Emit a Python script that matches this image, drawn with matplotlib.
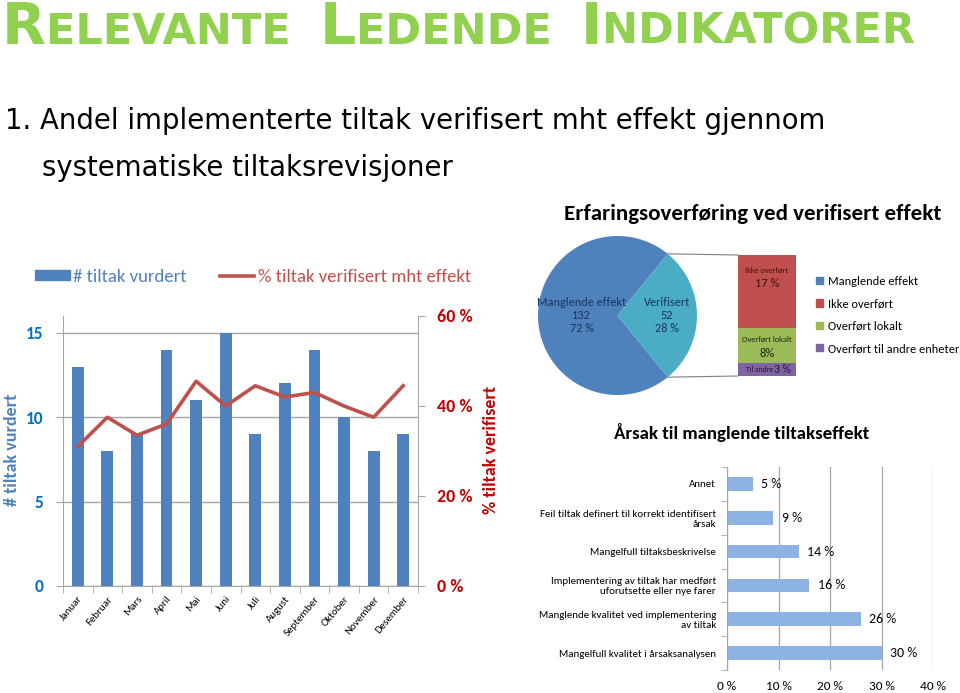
import matplotlib
matplotlib.use('Agg')
import numpy as np
import matplotlib.pyplot as plt
from matplotlib import font_manager
from matplotlib.patches import Patch, ConnectionPatch
from matplotlib.lines import Line2D

# --- data -------------------------------------------------------------
months = ['Januar', 'Februar', 'Mars', 'April', 'Mai', 'Juni', 'Juli',
          'August', 'September', 'Oktober', 'November', 'Desember']
tiltak_vurdert = [13, 8, 9, 14, 11, 15, 9, 12, 14, 10, 8, 9]
andel_verifisert = [0.31, 0.375, 0.335, 0.36, 0.455, 0.40, 0.445, 0.42,
                    0.43, 0.40, 0.375, 0.445]

pie_labels = ['Manglende effekt', 'Verifisert']
pie_counts = [132, 52]
overforing_labels = ['Til andre', 'Overført lokalt', 'Ikke overført']
overforing_pct = [3, 8, 17]
pie_legend = ['Manglende effekt', 'Ikke overført', 'Overført lokalt',
              'Overført til andre enheter']

arsak_labels = ['Annet',
                'Feil tiltak definert til korrekt identifisert\nårsak',
                'Mangelfull tiltaksbeskrivelse',
                'Implementering av tiltak har medført\nuforutsette eller nye farer',
                'Manglende kvalitet ved implementering\nav tiltak',
                'Mangelfull kvalitet i årsaksanalysen']
arsak_pct = [5, 9, 14, 16, 26, 30]

# --- helpers ----------------------------------------------------------
W, H = 960, 693

def fx(x):
    return x / W

def fy(y):
    return 1 - y / H

def box(x0, y0, x1, y1):
    # pixel box (top-left origin) -> fig fractions
    return [x0 / W, 1 - y1 / H, (x1 - x0) / W, (y1 - y0) / H]

names = {f.name for f in font_manager.fontManager.ttflist}
cf = 'Carlito' if 'Carlito' in names else 'Lato'
plt.rcParams['font.family'] = cf

BLUE = '#4f81bd'
RED = '#c0504d'
GRID = '#a6a6a6'

fig = plt.figure(figsize=(9.6, 6.93), dpi=100)
fig.patch.set_facecolor('white')
r = fig.canvas.get_renderer()

# --- title in small caps ---------------------------------------------
x = fx(2)
for word in 'Relevante Ledende Indikatorer'.split():
    for part, size in ((word[0], 41), (word[1:].upper(), 31)):
        t = fig.text(x, fy(44), part, fontsize=size, fontweight='bold',
                     color='#92d050', family='DejaVu Sans', va='baseline')
        x += t.get_window_extent(r).width / W
    x += fx(29)

fig.text(fx(5), fy(129), '1. Andel implementerte tiltak verifisert mht effekt gjennom',
         fontsize=19.8, family='DejaVu Sans', va='baseline')
fig.text(fx(42), fy(176), 'systematiske tiltaksrevisjoner',
         fontsize=19.8, family='DejaVu Sans', va='baseline')

# --- chart 1: bars + line --------------------------------------------
ax = fig.add_axes(box(63, 316, 418, 586))
xs = np.arange(len(months))
ax.bar(xs, tiltak_vurdert, width=0.4, color=BLUE, zorder=2)
ax.set_xlim(-0.5, len(months) - 0.5)
ax.set_ylim(0, 16)
ax.set_yticks([0, 5, 10, 15])
ax.grid(axis='y', color=GRID, lw=1, zorder=0)
ax.set_xticks(xs)
ax.set_xticklabels(months, rotation=50, ha='right', va='top',
                   rotation_mode='anchor', fontsize=7.8)
ax.set_xticks(np.arange(-0.5, len(months)), minor=True)
ax.tick_params(axis='x', which='major', length=0, pad=6)
ax.tick_params(axis='x', which='minor', length=5, color=GRID)
ax.tick_params(axis='y', length=5, color=GRID, labelcolor='#0070c0',
               labelsize=12.5, pad=9)
for lab in ax.get_yticklabels():
    lab.set_fontweight('bold')
for s in ['top', 'right']:
    ax.spines[s].set_visible(False)
for s in ['left', 'bottom']:
    ax.spines[s].set_color(GRID)

ax2 = ax.twinx()
ax2.plot(xs, andel_verifisert, color=RED, lw=2.6, zorder=3)
ax2.set_ylim(0, 0.6)
ax2.set_yticks([0, 0.2, 0.4, 0.6])
ax2.set_yticklabels([f'{v * 100:.0f} %' for v in ax2.get_yticks()])
ax2.tick_params(axis='y', length=5, color=GRID, labelcolor='#c00000',
                labelsize=13, pad=9)
for lab in ax2.get_yticklabels():
    lab.set_fontweight('bold')
for s in ['top', 'left', 'bottom']:
    ax2.spines[s].set_visible(False)
ax2.spines['right'].set_color(GRID)

fig.text(fx(12), fy(450), '# tiltak vurdert', rotation=90, ha='center',
         va='center', fontsize=13, fontweight='bold', color=BLUE)
fig.text(fx(491), fy(450), '% tiltak verifisert', rotation=90, ha='center',
         va='center', fontsize=13, fontweight='bold', color='#c00000')

leg = fig.legend(handles=[Patch(color=BLUE), Line2D([], [], color=RED, lw=2.6)],
                 labels=['# tiltak vurdert', '% tiltak verifisert mht effekt'],
                 ncol=2, loc='center left', bbox_to_anchor=(fx(35), fy(277)),
                 frameon=False, fontsize=13.5, handlelength=1.85,
                 handleheight=0.45, handletextpad=0.2, columnspacing=1.75,
                 borderpad=0, borderaxespad=0)
for txt, col in zip(leg.get_texts(), [BLUE, RED]):
    txt.set_color(col)

# --- chart 2: pie of verified + stacked bar ---------------------------
fig.text(fx(753), fy(214), 'Erfaringsoverføring ved verifisert effekt',
         ha='center', va='center', fontsize=16.5, fontweight='bold')

axp = fig.add_axes(box(538, 236, 697, 395))
frac_ver = pie_counts[1] / sum(pie_counts)
start = 180 * frac_ver
axp.pie(pie_counts, colors=[BLUE, '#4bacc6'], startangle=start,
        counterclock=True, radius=1)
axp.set_xlim(-1, 1)
axp.set_ylim(-1, 1)
angles = [start + 180 * (1 - frac_ver), 0]
radii = [0.45, 0.62]
for lab, cnt, ang, rad in zip(pie_labels, pie_counts, angles, radii):
    axp.text(rad * np.cos(np.radians(ang)), rad * np.sin(np.radians(ang)),
             f'{lab}\n{cnt}\n{cnt / sum(pie_counts) * 100:.0f} %',
             ha='center', va='center', fontsize=8.8, color='#17365d',
             linespacing=1.25)

axb = fig.add_axes(box(738, 255, 796, 376))
bar_cols = ['#8064a2', '#9bbb59', '#c0504d']
bottom = 0
for lab, v, col in zip(overforing_labels, overforing_pct, bar_cols):
    axb.bar(0, v, bottom=bottom, width=1, color=col)
    bottom += v
axb.set_xlim(-0.5, 0.5)
axb.set_ylim(0, sum(overforing_pct))
axb.axis('off')
tot = sum(overforing_pct)
axb.text(0, tot - 3.5, overforing_labels[2], ha='center', va='center',
         fontsize=6, color='#3a1414')
axb.text(0, tot - 6.7, f'{overforing_pct[2]} %', ha='center', va='center',
         fontsize=9, color='#3a1414')
axb.text(0, overforing_pct[0] + overforing_pct[1] - 2.6, overforing_labels[1],
         ha='center', va='center', fontsize=6, color='#1f2a0e')
axb.text(0, overforing_pct[0] + 2.3, f'{overforing_pct[1]}%', ha='center',
         va='center', fontsize=9, color='#1f2a0e')
axb.text(0.1, overforing_pct[0] / 2, overforing_labels[0], ha='right',
         va='center', fontsize=5.5, color='#241733')
axb.text(0.12, overforing_pct[0] / 2, f'{overforing_pct[0]} %', ha='left',
         va='center', fontsize=8.5, color='#241733')

for ang, yb in ((start, tot), (-start, 0)):
    con = ConnectionPatch(xyA=(np.cos(np.radians(ang)), np.sin(np.radians(ang))),
                          coordsA=axp.transData, xyB=(-0.5, yb),
                          coordsB=axb.transData, color='#7f7f7f', lw=0.8)
    fig.add_artist(con)

fig.legend(handles=[Patch(color=c) for c in [BLUE, '#c0504d', '#9bbb59', '#8064a2']],
           labels=pie_legend, loc='upper left',
           bbox_to_anchor=(fx(816), fy(276)), frameon=False, fontsize=8.9,
           handlelength=0.55, handleheight=0.55, handletextpad=0.4,
           labelspacing=0.92, borderpad=0, borderaxespad=0)

# --- chart 3: reasons -------------------------------------------------
fig.text(fx(742), fy(432), 'Årsak til manglende tiltakseffekt',
         ha='center', va='center', fontsize=13.6, fontweight='bold')

axh = fig.add_axes(box(727, 467, 933, 670))
ys = np.arange(len(arsak_labels))
vals = np.array(arsak_pct) / 100
axh.barh(ys, vals, height=0.4, color='#8db3e2', zorder=2)
axh.set_ylim(len(arsak_labels) - 0.5, -0.5)
axh.set_xlim(0, 0.4)
axh.set_xticks([0, 0.1, 0.2, 0.3, 0.4])
axh.set_xticklabels([f'{v * 100:.0f} %' for v in axh.get_xticks()])
axh.grid(axis='x', color=GRID, lw=0.9, zorder=0)
axh.set_yticks(ys)
axh.set_yticklabels(arsak_labels, fontsize=7.85, linespacing=1.15)
axh.set_yticks(np.arange(-0.5, len(arsak_labels)), minor=True)
axh.tick_params(axis='y', which='major', length=0, pad=8)
axh.tick_params(axis='y', which='minor', length=4, color=GRID)
axh.tick_params(axis='x', length=0, labelsize=9.5, pad=8)
for s in ['top', 'right', 'bottom']:
    axh.spines[s].set_visible(False)
axh.spines['left'].set_color(GRID)
for yv, v in zip(ys, arsak_pct):
    axh.text(v / 100 + 0.016, yv, f'{v} %', va='center', fontsize=10)

fig.savefig('out.png', dpi=100)
